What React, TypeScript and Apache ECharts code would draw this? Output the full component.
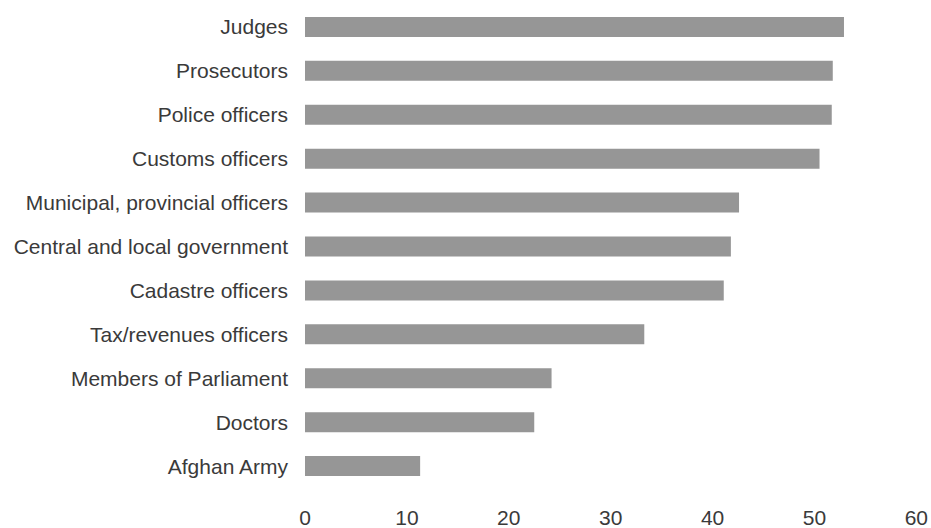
import React, { useEffect, useRef } from "react";
import * as echarts from "echarts";

const categories = [
  "Judges",
  "Prosecutors",
  "Police officers",
  "Customs officers",
  "Municipal, provincial officers",
  "Central and local government",
  "Cadastre officers",
  "Tax/revenues officers",
  "Members of Parliament",
  "Doctors",
  "Afghan Army",
];
const values = [52.9, 51.8, 51.7, 50.5, 42.6, 41.8, 41.1, 33.3, 24.2, 22.5, 11.3];
const xTicks = { min: 0, max: 60, interval: 10 };

const FONT = "'Liberation Sans', Arial, sans-serif";

export default function App() {
  const ref = useRef<HTMLDivElement>(null);
  useEffect(() => {
    if (!ref.current) return;
    const chart = echarts.init(ref.current, undefined, { renderer: "svg" });
    chart.setOption({
      animation: false,
      backgroundColor: "#ffffff",
      grid: { left: 305, right: 12, top: 5, bottom: 39, containLabel: false },
      xAxis: {
        type: "value",
        min: xTicks.min,
        max: xTicks.max,
        interval: xTicks.interval,
        axisLine: { show: false },
        axisTick: { show: false },
        splitLine: { show: false },
        axisLabel: {
          color: "#3a3a3a",
          fontSize: 21,
          fontFamily: FONT,
          margin: 19,
        },
      },
      yAxis: {
        type: "category",
        data: categories,
        inverse: true,
        axisLine: { show: false },
        axisTick: { show: false },
        splitLine: { show: false },
        axisLabel: {
          color: "#3a3a3a",
          fontSize: 21,
          fontFamily: FONT,
          margin: 17,
        },
      },
      series: [
        {
          type: "bar",
          data: values,
          barWidth: 20,
          itemStyle: { color: "#969696" },
        },
      ],
    });
    return () => chart.dispose();
  }, []);
  return (
    <div
      ref={ref}
      style={{ position: "fixed", left: 0, top: 0, width: 931, height: 528 }}
    />
  );
}
